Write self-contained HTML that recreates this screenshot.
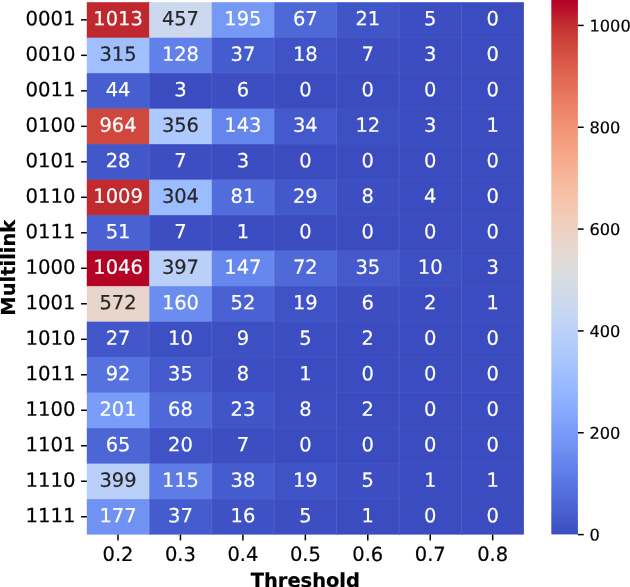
<!DOCTYPE html>
<html lang="en">
<head>
<meta charset="utf-8">
<title>Multilink vs Threshold heatmap</title>
<style>
html,body{margin:0;padding:0;background:#fff;}
body{width:630px;height:587px;overflow:hidden;}
svg{display:block;}
text{font-family:"DejaVu Sans","Liberation Sans",sans-serif;font-size:19.44px;}
.b{font-weight:bold;}
.c{font-size:16.2px;}
.k{fill:#000;stroke:#000;}
.w{fill:#fff;stroke:#fff;}
.d{fill:#262626;stroke:#262626;}
text{stroke-width:0.2px;}
.y{font-size:19.65px;}
.t{stroke:#000;stroke-width:1.5;}
</style>
</head>
<body>
<svg width="630" height="587" viewBox="0 0 630 587">
<defs>
<linearGradient id="cw" gradientUnits="userSpaceOnUse" x1="0" y1="2" x2="0" y2="534.4">
<stop offset="0.0000" stop-color="#b40426"/>
<stop offset="0.0156" stop-color="#b8122a"/>
<stop offset="0.0312" stop-color="#be242e"/>
<stop offset="0.0469" stop-color="#c43032"/>
<stop offset="0.0625" stop-color="#ca3b37"/>
<stop offset="0.0781" stop-color="#cf453c"/>
<stop offset="0.0938" stop-color="#d44e41"/>
<stop offset="0.1094" stop-color="#d85646"/>
<stop offset="0.1250" stop-color="#dd5f4b"/>
<stop offset="0.1406" stop-color="#e16751"/>
<stop offset="0.1562" stop-color="#e46e56"/>
<stop offset="0.1719" stop-color="#e8765c"/>
<stop offset="0.1875" stop-color="#eb7d62"/>
<stop offset="0.2031" stop-color="#ee8468"/>
<stop offset="0.2188" stop-color="#f08b6e"/>
<stop offset="0.2344" stop-color="#f29274"/>
<stop offset="0.2500" stop-color="#f4987a"/>
<stop offset="0.2656" stop-color="#f59f80"/>
<stop offset="0.2812" stop-color="#f6a586"/>
<stop offset="0.2969" stop-color="#f7aa8c"/>
<stop offset="0.3125" stop-color="#f7b093"/>
<stop offset="0.3281" stop-color="#f7b599"/>
<stop offset="0.3438" stop-color="#f7ba9f"/>
<stop offset="0.3594" stop-color="#f6bfa6"/>
<stop offset="0.3750" stop-color="#f5c4ac"/>
<stop offset="0.3906" stop-color="#f3c8b2"/>
<stop offset="0.4062" stop-color="#f1ccb8"/>
<stop offset="0.4219" stop-color="#efcfbf"/>
<stop offset="0.4375" stop-color="#ecd3c5"/>
<stop offset="0.4531" stop-color="#e9d5cb"/>
<stop offset="0.4688" stop-color="#e5d8d1"/>
<stop offset="0.4844" stop-color="#e1dad6"/>
<stop offset="0.5000" stop-color="#dddcdc"/>
<stop offset="0.5156" stop-color="#d9dce1"/>
<stop offset="0.5312" stop-color="#d5dbe5"/>
<stop offset="0.5469" stop-color="#d1dae9"/>
<stop offset="0.5625" stop-color="#ccd9ed"/>
<stop offset="0.5781" stop-color="#c7d7f0"/>
<stop offset="0.5938" stop-color="#c3d5f4"/>
<stop offset="0.6094" stop-color="#bed2f6"/>
<stop offset="0.6250" stop-color="#b9d0f9"/>
<stop offset="0.6406" stop-color="#b3cdfb"/>
<stop offset="0.6562" stop-color="#aec9fc"/>
<stop offset="0.6719" stop-color="#a9c6fd"/>
<stop offset="0.6875" stop-color="#a3c2fe"/>
<stop offset="0.7031" stop-color="#9ebeff"/>
<stop offset="0.7188" stop-color="#98b9ff"/>
<stop offset="0.7344" stop-color="#93b5fe"/>
<stop offset="0.7500" stop-color="#8db0fe"/>
<stop offset="0.7656" stop-color="#88abfd"/>
<stop offset="0.7812" stop-color="#82a6fb"/>
<stop offset="0.7969" stop-color="#7da0f9"/>
<stop offset="0.8125" stop-color="#779af7"/>
<stop offset="0.8281" stop-color="#7295f4"/>
<stop offset="0.8438" stop-color="#6c8ff1"/>
<stop offset="0.8594" stop-color="#6788ee"/>
<stop offset="0.8750" stop-color="#6282ea"/>
<stop offset="0.8906" stop-color="#5d7ce6"/>
<stop offset="0.9062" stop-color="#5875e1"/>
<stop offset="0.9219" stop-color="#536edd"/>
<stop offset="0.9375" stop-color="#4e68d8"/>
<stop offset="0.9531" stop-color="#4961d2"/>
<stop offset="0.9688" stop-color="#445acc"/>
<stop offset="0.9844" stop-color="#3f53c6"/>
<stop offset="1.0000" stop-color="#3b4cc0"/>
</linearGradient>
</defs>
<rect x="0" y="0" width="630" height="587" fill="#fff"/>
<g id="cells">
<rect x="86.80" y="2.20" width="63.44" height="36.49" fill="#c0282f"/>
<rect x="149.24" y="2.20" width="63.44" height="36.49" fill="#cbd8ee"/>
<rect x="211.69" y="2.20" width="63.44" height="36.49" fill="#7699f6"/>
<rect x="274.13" y="2.20" width="63.44" height="36.49" fill="#4e68d8"/>
<rect x="336.57" y="2.20" width="63.44" height="36.49" fill="#4055c8"/>
<rect x="399.01" y="2.20" width="63.44" height="36.49" fill="#3c4ec2"/>
<rect x="461.46" y="2.20" width="62.44" height="36.49" fill="#3b4cc0"/>
<rect x="86.80" y="37.69" width="63.44" height="36.49" fill="#9fbfff"/>
<rect x="149.24" y="37.69" width="63.44" height="36.49" fill="#6180e9"/>
<rect x="211.69" y="37.69" width="63.44" height="36.49" fill="#455cce"/>
<rect x="274.13" y="37.69" width="63.44" height="36.49" fill="#3f53c6"/>
<rect x="336.57" y="37.69" width="63.44" height="36.49" fill="#3c4ec2"/>
<rect x="399.01" y="37.69" width="63.44" height="36.49" fill="#3b4cc0"/>
<rect x="461.46" y="37.69" width="62.44" height="36.49" fill="#3b4cc0"/>
<rect x="86.80" y="73.19" width="63.44" height="36.49" fill="#465ecf"/>
<rect x="149.24" y="73.19" width="63.44" height="36.49" fill="#3b4cc0"/>
<rect x="211.69" y="73.19" width="63.44" height="36.49" fill="#3c4ec2"/>
<rect x="274.13" y="73.19" width="63.44" height="36.49" fill="#3b4cc0"/>
<rect x="336.57" y="73.19" width="63.44" height="36.49" fill="#3b4cc0"/>
<rect x="399.01" y="73.19" width="63.44" height="36.49" fill="#3b4cc0"/>
<rect x="461.46" y="73.19" width="62.44" height="36.49" fill="#3b4cc0"/>
<rect x="86.80" y="108.68" width="63.44" height="36.49" fill="#d0473d"/>
<rect x="149.24" y="108.68" width="63.44" height="36.49" fill="#adc9fd"/>
<rect x="211.69" y="108.68" width="63.44" height="36.49" fill="#6485ec"/>
<rect x="274.13" y="108.68" width="63.44" height="36.49" fill="#445acc"/>
<rect x="336.57" y="108.68" width="63.44" height="36.49" fill="#3d50c3"/>
<rect x="399.01" y="108.68" width="63.44" height="36.49" fill="#3b4cc0"/>
<rect x="461.46" y="108.68" width="62.44" height="36.49" fill="#3b4cc0"/>
<rect x="86.80" y="144.17" width="63.44" height="36.49" fill="#4257c9"/>
<rect x="149.24" y="144.17" width="63.44" height="36.49" fill="#3c4ec2"/>
<rect x="211.69" y="144.17" width="63.44" height="36.49" fill="#3b4cc0"/>
<rect x="274.13" y="144.17" width="63.44" height="36.49" fill="#3b4cc0"/>
<rect x="336.57" y="144.17" width="63.44" height="36.49" fill="#3b4cc0"/>
<rect x="399.01" y="144.17" width="63.44" height="36.49" fill="#3b4cc0"/>
<rect x="461.46" y="144.17" width="62.44" height="36.49" fill="#3b4cc0"/>
<rect x="86.80" y="179.67" width="63.44" height="36.49" fill="#c12b30"/>
<rect x="149.24" y="179.67" width="63.44" height="36.49" fill="#9bbcff"/>
<rect x="211.69" y="179.67" width="63.44" height="36.49" fill="#516ddb"/>
<rect x="274.13" y="179.67" width="63.44" height="36.49" fill="#4358cb"/>
<rect x="336.57" y="179.67" width="63.44" height="36.49" fill="#3c4ec2"/>
<rect x="399.01" y="179.67" width="63.44" height="36.49" fill="#3b4cc0"/>
<rect x="461.46" y="179.67" width="62.44" height="36.49" fill="#3b4cc0"/>
<rect x="86.80" y="215.16" width="63.44" height="36.49" fill="#4961d2"/>
<rect x="149.24" y="215.16" width="63.44" height="36.49" fill="#3c4ec2"/>
<rect x="211.69" y="215.16" width="63.44" height="36.49" fill="#3b4cc0"/>
<rect x="274.13" y="215.16" width="63.44" height="36.49" fill="#3b4cc0"/>
<rect x="336.57" y="215.16" width="63.44" height="36.49" fill="#3b4cc0"/>
<rect x="399.01" y="215.16" width="63.44" height="36.49" fill="#3b4cc0"/>
<rect x="461.46" y="215.16" width="62.44" height="36.49" fill="#3b4cc0"/>
<rect x="86.80" y="250.65" width="63.44" height="36.49" fill="#b40426"/>
<rect x="149.24" y="250.65" width="63.44" height="36.49" fill="#bad0f8"/>
<rect x="211.69" y="250.65" width="63.44" height="36.49" fill="#6687ed"/>
<rect x="274.13" y="250.65" width="63.44" height="36.49" fill="#4f69d9"/>
<rect x="336.57" y="250.65" width="63.44" height="36.49" fill="#445acc"/>
<rect x="399.01" y="250.65" width="63.44" height="36.49" fill="#3d50c3"/>
<rect x="461.46" y="250.65" width="62.44" height="36.49" fill="#3b4cc0"/>
<rect x="86.80" y="286.15" width="63.44" height="36.49" fill="#e8d6cc"/>
<rect x="149.24" y="286.15" width="63.44" height="36.49" fill="#6b8df0"/>
<rect x="211.69" y="286.15" width="63.44" height="36.49" fill="#4961d2"/>
<rect x="274.13" y="286.15" width="63.44" height="36.49" fill="#3f53c6"/>
<rect x="336.57" y="286.15" width="63.44" height="36.49" fill="#3c4ec2"/>
<rect x="399.01" y="286.15" width="63.44" height="36.49" fill="#3b4cc0"/>
<rect x="461.46" y="286.15" width="62.44" height="36.49" fill="#3b4cc0"/>
<rect x="86.80" y="321.64" width="63.44" height="36.49" fill="#4257c9"/>
<rect x="149.24" y="321.64" width="63.44" height="36.49" fill="#3d50c3"/>
<rect x="211.69" y="321.64" width="63.44" height="36.49" fill="#3d50c3"/>
<rect x="274.13" y="321.64" width="63.44" height="36.49" fill="#3c4ec2"/>
<rect x="336.57" y="321.64" width="63.44" height="36.49" fill="#3b4cc0"/>
<rect x="399.01" y="321.64" width="63.44" height="36.49" fill="#3b4cc0"/>
<rect x="461.46" y="321.64" width="62.44" height="36.49" fill="#3b4cc0"/>
<rect x="86.80" y="357.13" width="63.44" height="36.49" fill="#5572df"/>
<rect x="149.24" y="357.13" width="63.44" height="36.49" fill="#445acc"/>
<rect x="211.69" y="357.13" width="63.44" height="36.49" fill="#3c4ec2"/>
<rect x="274.13" y="357.13" width="63.44" height="36.49" fill="#3b4cc0"/>
<rect x="336.57" y="357.13" width="63.44" height="36.49" fill="#3b4cc0"/>
<rect x="399.01" y="357.13" width="63.44" height="36.49" fill="#3b4cc0"/>
<rect x="461.46" y="357.13" width="62.44" height="36.49" fill="#3b4cc0"/>
<rect x="86.80" y="392.63" width="63.44" height="36.49" fill="#799cf8"/>
<rect x="149.24" y="392.63" width="63.44" height="36.49" fill="#4e68d8"/>
<rect x="211.69" y="392.63" width="63.44" height="36.49" fill="#4055c8"/>
<rect x="274.13" y="392.63" width="63.44" height="36.49" fill="#3c4ec2"/>
<rect x="336.57" y="392.63" width="63.44" height="36.49" fill="#3b4cc0"/>
<rect x="399.01" y="392.63" width="63.44" height="36.49" fill="#3b4cc0"/>
<rect x="461.46" y="392.63" width="62.44" height="36.49" fill="#3b4cc0"/>
<rect x="86.80" y="428.12" width="63.44" height="36.49" fill="#4c66d6"/>
<rect x="149.24" y="428.12" width="63.44" height="36.49" fill="#3f53c6"/>
<rect x="211.69" y="428.12" width="63.44" height="36.49" fill="#3c4ec2"/>
<rect x="274.13" y="428.12" width="63.44" height="36.49" fill="#3b4cc0"/>
<rect x="336.57" y="428.12" width="63.44" height="36.49" fill="#3b4cc0"/>
<rect x="399.01" y="428.12" width="63.44" height="36.49" fill="#3b4cc0"/>
<rect x="461.46" y="428.12" width="62.44" height="36.49" fill="#3b4cc0"/>
<rect x="86.80" y="463.61" width="63.44" height="36.49" fill="#bad0f8"/>
<rect x="149.24" y="463.61" width="63.44" height="36.49" fill="#5d7ce6"/>
<rect x="211.69" y="463.61" width="63.44" height="36.49" fill="#455cce"/>
<rect x="274.13" y="463.61" width="63.44" height="36.49" fill="#3f53c6"/>
<rect x="336.57" y="463.61" width="63.44" height="36.49" fill="#3c4ec2"/>
<rect x="399.01" y="463.61" width="63.44" height="36.49" fill="#3b4cc0"/>
<rect x="461.46" y="463.61" width="62.44" height="36.49" fill="#3b4cc0"/>
<rect x="86.80" y="499.11" width="63.44" height="35.49" fill="#7093f3"/>
<rect x="149.24" y="499.11" width="63.44" height="35.49" fill="#455cce"/>
<rect x="211.69" y="499.11" width="63.44" height="35.49" fill="#3e51c5"/>
<rect x="274.13" y="499.11" width="63.44" height="35.49" fill="#3c4ec2"/>
<rect x="336.57" y="499.11" width="63.44" height="35.49" fill="#3b4cc0"/>
<rect x="399.01" y="499.11" width="63.44" height="35.49" fill="#3b4cc0"/>
<rect x="461.46" y="499.11" width="62.44" height="35.49" fill="#3b4cc0"/>
</g>
<g id="seams" stroke="#fff" stroke-width="1">
<line x1="149.24" y1="2.20" x2="149.24" y2="534.60" stroke-opacity="0.1"/>
<line x1="211.69" y1="2.20" x2="211.69" y2="534.60" stroke-opacity="0.1"/>
<line x1="274.13" y1="2.20" x2="274.13" y2="534.60" stroke-opacity="0.1"/>
<line x1="336.57" y1="2.20" x2="336.57" y2="534.60" stroke-opacity="0.1"/>
<line x1="399.01" y1="2.20" x2="399.01" y2="534.60" stroke-opacity="0.1"/>
<line x1="461.46" y1="2.20" x2="461.46" y2="534.60" stroke-opacity="0.1"/>
<line x1="86.80" y1="37.69" x2="523.90" y2="37.69" stroke-opacity="0.04"/>
<line x1="86.80" y1="73.19" x2="523.90" y2="73.19" stroke-opacity="0.04"/>
<line x1="86.80" y1="108.68" x2="523.90" y2="108.68" stroke-opacity="0.04"/>
<line x1="86.80" y1="144.17" x2="523.90" y2="144.17" stroke-opacity="0.04"/>
<line x1="86.80" y1="179.67" x2="523.90" y2="179.67" stroke-opacity="0.04"/>
<line x1="86.80" y1="215.16" x2="523.90" y2="215.16" stroke-opacity="0.04"/>
<line x1="86.80" y1="250.65" x2="523.90" y2="250.65" stroke-opacity="0.04"/>
<line x1="86.80" y1="286.15" x2="523.90" y2="286.15" stroke-opacity="0.04"/>
<line x1="86.80" y1="321.64" x2="523.90" y2="321.64" stroke-opacity="0.04"/>
<line x1="86.80" y1="357.13" x2="523.90" y2="357.13" stroke-opacity="0.04"/>
<line x1="86.80" y1="392.63" x2="523.90" y2="392.63" stroke-opacity="0.04"/>
<line x1="86.80" y1="428.12" x2="523.90" y2="428.12" stroke-opacity="0.04"/>
<line x1="86.80" y1="463.61" x2="523.90" y2="463.61" stroke-opacity="0.04"/>
<line x1="86.80" y1="499.11" x2="523.90" y2="499.11" stroke-opacity="0.04"/>
</g>
<g id="annot" text-anchor="middle">
<text class="w" x="118.02" y="25.35" transform="rotate(0.1 118.02 25.35)">1013</text>
<text class="d" x="180.46" y="25.35" transform="rotate(0.1 180.46 25.35)">457</text>
<text class="w" x="242.91" y="25.35" transform="rotate(0.1 242.91 25.35)">195</text>
<text class="w" x="305.35" y="25.35" transform="rotate(0.1 305.35 25.35)">67</text>
<text class="w" x="367.79" y="25.35" transform="rotate(0.1 367.79 25.35)">21</text>
<text class="w" x="430.24" y="25.35" transform="rotate(0.1 430.24 25.35)">5</text>
<text class="w" x="492.68" y="25.35" transform="rotate(0.1 492.68 25.35)">0</text>
<text class="d" x="118.02" y="60.84" transform="rotate(0.1 118.02 60.84)">315</text>
<text class="w" x="180.46" y="60.84" transform="rotate(0.1 180.46 60.84)">128</text>
<text class="w" x="242.91" y="60.84" transform="rotate(0.1 242.91 60.84)">37</text>
<text class="w" x="305.35" y="60.84" transform="rotate(0.1 305.35 60.84)">18</text>
<text class="w" x="367.79" y="60.84" transform="rotate(0.1 367.79 60.84)">7</text>
<text class="w" x="430.24" y="60.84" transform="rotate(0.1 430.24 60.84)">3</text>
<text class="w" x="492.68" y="60.84" transform="rotate(0.1 492.68 60.84)">0</text>
<text class="w" x="118.02" y="96.33" transform="rotate(0.1 118.02 96.33)">44</text>
<text class="w" x="180.46" y="96.33" transform="rotate(0.1 180.46 96.33)">3</text>
<text class="w" x="242.91" y="96.33" transform="rotate(0.1 242.91 96.33)">6</text>
<text class="w" x="305.35" y="96.33" transform="rotate(0.1 305.35 96.33)">0</text>
<text class="w" x="367.79" y="96.33" transform="rotate(0.1 367.79 96.33)">0</text>
<text class="w" x="430.24" y="96.33" transform="rotate(0.1 430.24 96.33)">0</text>
<text class="w" x="492.68" y="96.33" transform="rotate(0.1 492.68 96.33)">0</text>
<text class="w" x="118.02" y="131.83" transform="rotate(0.1 118.02 131.83)">964</text>
<text class="d" x="180.46" y="131.83" transform="rotate(0.1 180.46 131.83)">356</text>
<text class="w" x="242.91" y="131.83" transform="rotate(0.1 242.91 131.83)">143</text>
<text class="w" x="305.35" y="131.83" transform="rotate(0.1 305.35 131.83)">34</text>
<text class="w" x="367.79" y="131.83" transform="rotate(0.1 367.79 131.83)">12</text>
<text class="w" x="430.24" y="131.83" transform="rotate(0.1 430.24 131.83)">3</text>
<text class="w" x="492.68" y="131.83" transform="rotate(0.1 492.68 131.83)">1</text>
<text class="w" x="118.02" y="167.32" transform="rotate(0.1 118.02 167.32)">28</text>
<text class="w" x="180.46" y="167.32" transform="rotate(0.1 180.46 167.32)">7</text>
<text class="w" x="242.91" y="167.32" transform="rotate(0.1 242.91 167.32)">3</text>
<text class="w" x="305.35" y="167.32" transform="rotate(0.1 305.35 167.32)">0</text>
<text class="w" x="367.79" y="167.32" transform="rotate(0.1 367.79 167.32)">0</text>
<text class="w" x="430.24" y="167.32" transform="rotate(0.1 430.24 167.32)">0</text>
<text class="w" x="492.68" y="167.32" transform="rotate(0.1 492.68 167.32)">0</text>
<text class="w" x="118.02" y="202.81" transform="rotate(0.1 118.02 202.81)">1009</text>
<text class="d" x="180.46" y="202.81" transform="rotate(0.1 180.46 202.81)">304</text>
<text class="w" x="242.91" y="202.81" transform="rotate(0.1 242.91 202.81)">81</text>
<text class="w" x="305.35" y="202.81" transform="rotate(0.1 305.35 202.81)">29</text>
<text class="w" x="367.79" y="202.81" transform="rotate(0.1 367.79 202.81)">8</text>
<text class="w" x="430.24" y="202.81" transform="rotate(0.1 430.24 202.81)">4</text>
<text class="w" x="492.68" y="202.81" transform="rotate(0.1 492.68 202.81)">0</text>
<text class="w" x="118.02" y="238.31" transform="rotate(0.1 118.02 238.31)">51</text>
<text class="w" x="180.46" y="238.31" transform="rotate(0.1 180.46 238.31)">7</text>
<text class="w" x="242.91" y="238.31" transform="rotate(0.1 242.91 238.31)">1</text>
<text class="w" x="305.35" y="238.31" transform="rotate(0.1 305.35 238.31)">0</text>
<text class="w" x="367.79" y="238.31" transform="rotate(0.1 367.79 238.31)">0</text>
<text class="w" x="430.24" y="238.31" transform="rotate(0.1 430.24 238.31)">0</text>
<text class="w" x="492.68" y="238.31" transform="rotate(0.1 492.68 238.31)">0</text>
<text class="w" x="118.02" y="273.80" transform="rotate(0.1 118.02 273.80)">1046</text>
<text class="d" x="180.46" y="273.80" transform="rotate(0.1 180.46 273.80)">397</text>
<text class="w" x="242.91" y="273.80" transform="rotate(0.1 242.91 273.80)">147</text>
<text class="w" x="305.35" y="273.80" transform="rotate(0.1 305.35 273.80)">72</text>
<text class="w" x="367.79" y="273.80" transform="rotate(0.1 367.79 273.80)">35</text>
<text class="w" x="430.24" y="273.80" transform="rotate(0.1 430.24 273.80)">10</text>
<text class="w" x="492.68" y="273.80" transform="rotate(0.1 492.68 273.80)">3</text>
<text class="d" x="118.02" y="309.29" transform="rotate(0.1 118.02 309.29)">572</text>
<text class="w" x="180.46" y="309.29" transform="rotate(0.1 180.46 309.29)">160</text>
<text class="w" x="242.91" y="309.29" transform="rotate(0.1 242.91 309.29)">52</text>
<text class="w" x="305.35" y="309.29" transform="rotate(0.1 305.35 309.29)">19</text>
<text class="w" x="367.79" y="309.29" transform="rotate(0.1 367.79 309.29)">6</text>
<text class="w" x="430.24" y="309.29" transform="rotate(0.1 430.24 309.29)">2</text>
<text class="w" x="492.68" y="309.29" transform="rotate(0.1 492.68 309.29)">1</text>
<text class="w" x="118.02" y="344.79" transform="rotate(0.1 118.02 344.79)">27</text>
<text class="w" x="180.46" y="344.79" transform="rotate(0.1 180.46 344.79)">10</text>
<text class="w" x="242.91" y="344.79" transform="rotate(0.1 242.91 344.79)">9</text>
<text class="w" x="305.35" y="344.79" transform="rotate(0.1 305.35 344.79)">5</text>
<text class="w" x="367.79" y="344.79" transform="rotate(0.1 367.79 344.79)">2</text>
<text class="w" x="430.24" y="344.79" transform="rotate(0.1 430.24 344.79)">0</text>
<text class="w" x="492.68" y="344.79" transform="rotate(0.1 492.68 344.79)">0</text>
<text class="w" x="118.02" y="380.28" transform="rotate(0.1 118.02 380.28)">92</text>
<text class="w" x="180.46" y="380.28" transform="rotate(0.1 180.46 380.28)">35</text>
<text class="w" x="242.91" y="380.28" transform="rotate(0.1 242.91 380.28)">8</text>
<text class="w" x="305.35" y="380.28" transform="rotate(0.1 305.35 380.28)">1</text>
<text class="w" x="367.79" y="380.28" transform="rotate(0.1 367.79 380.28)">0</text>
<text class="w" x="430.24" y="380.28" transform="rotate(0.1 430.24 380.28)">0</text>
<text class="w" x="492.68" y="380.28" transform="rotate(0.1 492.68 380.28)">0</text>
<text class="w" x="118.02" y="415.77" transform="rotate(0.1 118.02 415.77)">201</text>
<text class="w" x="180.46" y="415.77" transform="rotate(0.1 180.46 415.77)">68</text>
<text class="w" x="242.91" y="415.77" transform="rotate(0.1 242.91 415.77)">23</text>
<text class="w" x="305.35" y="415.77" transform="rotate(0.1 305.35 415.77)">8</text>
<text class="w" x="367.79" y="415.77" transform="rotate(0.1 367.79 415.77)">2</text>
<text class="w" x="430.24" y="415.77" transform="rotate(0.1 430.24 415.77)">0</text>
<text class="w" x="492.68" y="415.77" transform="rotate(0.1 492.68 415.77)">0</text>
<text class="w" x="118.02" y="451.27" transform="rotate(0.1 118.02 451.27)">65</text>
<text class="w" x="180.46" y="451.27" transform="rotate(0.1 180.46 451.27)">20</text>
<text class="w" x="242.91" y="451.27" transform="rotate(0.1 242.91 451.27)">7</text>
<text class="w" x="305.35" y="451.27" transform="rotate(0.1 305.35 451.27)">0</text>
<text class="w" x="367.79" y="451.27" transform="rotate(0.1 367.79 451.27)">0</text>
<text class="w" x="430.24" y="451.27" transform="rotate(0.1 430.24 451.27)">0</text>
<text class="w" x="492.68" y="451.27" transform="rotate(0.1 492.68 451.27)">0</text>
<text class="d" x="118.02" y="486.76" transform="rotate(0.1 118.02 486.76)">399</text>
<text class="w" x="180.46" y="486.76" transform="rotate(0.1 180.46 486.76)">115</text>
<text class="w" x="242.91" y="486.76" transform="rotate(0.1 242.91 486.76)">38</text>
<text class="w" x="305.35" y="486.76" transform="rotate(0.1 305.35 486.76)">19</text>
<text class="w" x="367.79" y="486.76" transform="rotate(0.1 367.79 486.76)">5</text>
<text class="w" x="430.24" y="486.76" transform="rotate(0.1 430.24 486.76)">1</text>
<text class="w" x="492.68" y="486.76" transform="rotate(0.1 492.68 486.76)">1</text>
<text class="w" x="118.02" y="522.25" transform="rotate(0.1 118.02 522.25)">177</text>
<text class="w" x="180.46" y="522.25" transform="rotate(0.1 180.46 522.25)">37</text>
<text class="w" x="242.91" y="522.25" transform="rotate(0.1 242.91 522.25)">16</text>
<text class="w" x="305.35" y="522.25" transform="rotate(0.1 305.35 522.25)">5</text>
<text class="w" x="367.79" y="522.25" transform="rotate(0.1 367.79 522.25)">1</text>
<text class="w" x="430.24" y="522.25" transform="rotate(0.1 430.24 522.25)">0</text>
<text class="w" x="492.68" y="522.25" transform="rotate(0.1 492.68 522.25)">0</text>
</g>
<g id="yticks">
<line class="t" x1="81.00" y1="19.85" x2="86.80" y2="19.85"/>
<text class="k y" text-anchor="end" x="75.50" y="25.35" transform="rotate(0.1 75.50 25.35)">0001</text>
<line class="t" x1="81.00" y1="55.34" x2="86.80" y2="55.34"/>
<text class="k y" text-anchor="end" x="75.50" y="60.84" transform="rotate(0.1 75.50 60.84)">0010</text>
<line class="t" x1="81.00" y1="90.83" x2="86.80" y2="90.83"/>
<text class="k y" text-anchor="end" x="75.50" y="96.33" transform="rotate(0.1 75.50 96.33)">0011</text>
<line class="t" x1="81.00" y1="126.33" x2="86.80" y2="126.33"/>
<text class="k y" text-anchor="end" x="75.50" y="131.83" transform="rotate(0.1 75.50 131.83)">0100</text>
<line class="t" x1="81.00" y1="161.82" x2="86.80" y2="161.82"/>
<text class="k y" text-anchor="end" x="75.50" y="167.32" transform="rotate(0.1 75.50 167.32)">0101</text>
<line class="t" x1="81.00" y1="197.31" x2="86.80" y2="197.31"/>
<text class="k y" text-anchor="end" x="75.50" y="202.81" transform="rotate(0.1 75.50 202.81)">0110</text>
<line class="t" x1="81.00" y1="232.81" x2="86.80" y2="232.81"/>
<text class="k y" text-anchor="end" x="75.50" y="238.31" transform="rotate(0.1 75.50 238.31)">0111</text>
<line class="t" x1="81.00" y1="268.30" x2="86.80" y2="268.30"/>
<text class="k y" text-anchor="end" x="75.50" y="273.80" transform="rotate(0.1 75.50 273.80)">1000</text>
<line class="t" x1="81.00" y1="303.79" x2="86.80" y2="303.79"/>
<text class="k y" text-anchor="end" x="75.50" y="309.29" transform="rotate(0.1 75.50 309.29)">1001</text>
<line class="t" x1="81.00" y1="339.29" x2="86.80" y2="339.29"/>
<text class="k y" text-anchor="end" x="75.50" y="344.79" transform="rotate(0.1 75.50 344.79)">1010</text>
<line class="t" x1="81.00" y1="374.78" x2="86.80" y2="374.78"/>
<text class="k y" text-anchor="end" x="75.50" y="380.28" transform="rotate(0.1 75.50 380.28)">1011</text>
<line class="t" x1="81.00" y1="410.27" x2="86.80" y2="410.27"/>
<text class="k y" text-anchor="end" x="75.50" y="415.77" transform="rotate(0.1 75.50 415.77)">1100</text>
<line class="t" x1="81.00" y1="445.77" x2="86.80" y2="445.77"/>
<text class="k y" text-anchor="end" x="75.50" y="451.27" transform="rotate(0.1 75.50 451.27)">1101</text>
<line class="t" x1="81.00" y1="481.26" x2="86.80" y2="481.26"/>
<text class="k y" text-anchor="end" x="75.50" y="486.76" transform="rotate(0.1 75.50 486.76)">1110</text>
<line class="t" x1="81.00" y1="516.75" x2="86.80" y2="516.75"/>
<text class="k y" text-anchor="end" x="75.50" y="522.25" transform="rotate(0.1 75.50 522.25)">1111</text>
</g>
<g id="xticks">
<line class="t" x1="118.02" y1="534.60" x2="118.02" y2="540.40"/>
<text class="k" text-anchor="middle" x="118.02" y="560.90" transform="rotate(0.1 118.02 560.90)">0.2</text>
<line class="t" x1="180.46" y1="534.60" x2="180.46" y2="540.40"/>
<text class="k" text-anchor="middle" x="180.46" y="560.90" transform="rotate(0.1 180.46 560.90)">0.3</text>
<line class="t" x1="242.91" y1="534.60" x2="242.91" y2="540.40"/>
<text class="k" text-anchor="middle" x="242.91" y="560.90" transform="rotate(0.1 242.91 560.90)">0.4</text>
<line class="t" x1="305.35" y1="534.60" x2="305.35" y2="540.40"/>
<text class="k" text-anchor="middle" x="305.35" y="560.90" transform="rotate(0.1 305.35 560.90)">0.5</text>
<line class="t" x1="367.79" y1="534.60" x2="367.79" y2="540.40"/>
<text class="k" text-anchor="middle" x="367.79" y="560.90" transform="rotate(0.1 367.79 560.90)">0.6</text>
<line class="t" x1="430.24" y1="534.60" x2="430.24" y2="540.40"/>
<text class="k" text-anchor="middle" x="430.24" y="560.90" transform="rotate(0.1 430.24 560.90)">0.7</text>
<line class="t" x1="492.68" y1="534.60" x2="492.68" y2="540.40"/>
<text class="k" text-anchor="middle" x="492.68" y="560.90" transform="rotate(0.1 492.68 560.90)">0.8</text>
</g>
<text class="k b" text-anchor="middle" x="305.35" y="587.00" transform="rotate(0.1 305.35 587.00)">Threshold</text>
<text class="k b" text-anchor="middle" transform="translate(14.8 267.7) rotate(-90)">Multilink</text>
<rect x="551.30" y="0.00" width="26.60" height="534.40" fill="url(#cw)"/>
<g id="cbticks">
<line class="t" x1="577.90" y1="534.60" x2="583.70" y2="534.60"/>
<text class="k c" x="589.50" y="540.60" transform="rotate(0.1 589.50 540.60)">0</text>
<line class="t" x1="577.90" y1="432.76" x2="583.70" y2="432.76"/>
<text class="k c" x="589.50" y="438.76" transform="rotate(0.1 589.50 438.76)">200</text>
<line class="t" x1="577.90" y1="330.93" x2="583.70" y2="330.93"/>
<text class="k c" x="589.50" y="336.93" transform="rotate(0.1 589.50 336.93)">400</text>
<line class="t" x1="577.90" y1="229.09" x2="583.70" y2="229.09"/>
<text class="k c" x="589.50" y="235.09" transform="rotate(0.1 589.50 235.09)">600</text>
<line class="t" x1="577.90" y1="127.26" x2="583.70" y2="127.26"/>
<text class="k c" x="589.50" y="133.26" transform="rotate(0.1 589.50 133.26)">800</text>
<line class="t" x1="577.90" y1="25.42" x2="583.70" y2="25.42"/>
<text class="k c" x="589.50" y="31.42" transform="rotate(0.1 589.50 31.42)">1000</text>
</g>
</svg>
</body>
</html>
